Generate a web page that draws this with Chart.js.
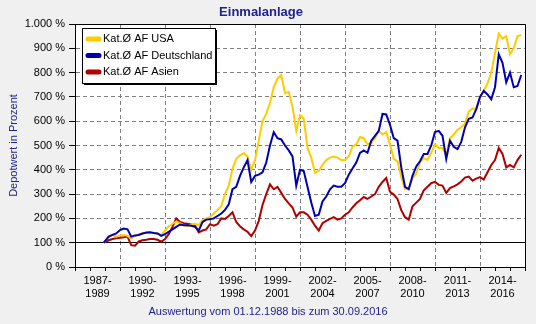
<!DOCTYPE html>
<html>
<head>
<meta charset="utf-8">
<script src="https://cdn.jsdelivr.net/npm/chart.js@4.4.1/dist/chart.umd.min.js"></script>
<style>
  html, body { margin: 0; padding: 0; background: #f0f0f0; }
  #chart { display: block; }
</style>
</head>
<body>
<canvas id="chart" width="536" height="324"></canvas>
<script>
// Quarterly points, first one is the start date 01.12.1988
const years = [
  1988.92,
  1989.25, 1989.5, 1989.75,
  1990, 1990.25, 1990.5, 1990.75,
  1991, 1991.25, 1991.5, 1991.75,
  1992, 1992.25, 1992.5, 1992.75,
  1993, 1993.25, 1993.5, 1993.75,
  1994, 1994.25, 1994.5, 1994.75,
  1995, 1995.25, 1995.5, 1995.75,
  1996, 1996.25, 1996.5, 1996.75,
  1997, 1997.25, 1997.5, 1997.75,
  1998, 1998.25, 1998.5, 1998.75,
  1999, 1999.25, 1999.5, 1999.75,
  2000, 2000.25, 2000.5, 2000.75,
  2001, 2001.25, 2001.5, 2001.75,
  2002, 2002.25, 2002.5, 2002.75,
  2003, 2003.25, 2003.5, 2003.75,
  2004, 2004.25, 2004.5, 2004.75,
  2005, 2005.25, 2005.5, 2005.75,
  2006, 2006.25, 2006.5, 2006.75,
  2007, 2007.25, 2007.5, 2007.75,
  2008, 2008.25, 2008.5, 2008.75,
  2009, 2009.25, 2009.5, 2009.75,
  2010, 2010.25, 2010.5, 2010.75,
  2011, 2011.25, 2011.5, 2011.75,
  2012, 2012.25, 2012.5, 2012.75,
  2013, 2013.25, 2013.5, 2013.75,
  2014, 2014.25, 2014.5, 2014.75,
  2015, 2015.25, 2015.5, 2015.75,
  2016, 2016.25, 2016.5, 2016.75
];

const usaValues = [
  100,
  125, 132, 125,
  130, 132, 128, 118,
  128, 135, 138, 140,
  142, 140, 138, 132,
  150, 168, 178, 187,
  180, 172, 168, 175,
  178, 172, 192, 200,
  205, 220, 235, 250,
  300, 335, 405, 445,
  460, 468, 455, 400,
  440, 520, 600, 630,
  676, 740, 775, 790,
  715, 720, 660, 560,
  625, 610, 490, 450,
  388, 395, 420, 440,
  450, 455, 450, 440,
  440, 455, 495, 505,
  535, 530, 505, 510,
  530, 560, 545, 555,
  505, 445, 435, 370,
  320, 325, 365, 385,
  430, 448, 441, 470,
  505, 490, 490, 460,
  530, 545, 565, 575,
  590, 640, 652, 650,
  695, 725, 755, 800,
  880, 960, 940, 950,
  875, 900, 950, 955
];

const germanyValues = [
  100,
  125, 132, 138,
  152, 158, 155, 125,
  130, 132, 138, 142,
  143, 140, 138, 128,
  135, 145, 155, 165,
  175, 172, 172, 170,
  165, 150, 185, 195,
  196, 200, 210, 220,
  235, 258, 320, 330,
  375, 410, 440, 350,
  375, 380, 390, 430,
  500, 555, 530, 525,
  500, 480, 455, 335,
  400, 395, 330, 265,
  210, 215, 270, 290,
  320, 335, 330, 330,
  345, 380, 405, 430,
  470, 480, 470, 520,
  540, 560, 630, 628,
  585, 530, 520, 410,
  330, 320, 375, 414,
  435, 465, 465, 500,
  555, 560, 540, 445,
  520, 495, 485, 515,
  575, 610, 615, 650,
  700, 725, 710, 690,
  740, 875, 840, 760,
  800, 740, 745, 790
];

const asiaValues = [
  100,
  110, 115, 118,
  120, 122, 125, 90,
  88, 105, 110, 112,
  115, 115, 112, 104,
  115, 135, 165, 200,
  185, 180, 178, 175,
  170, 142, 150, 155,
  176, 170, 176, 200,
  198, 210, 225, 185,
  168, 155, 145, 127,
  150, 190, 255, 300,
  340, 320, 330, 305,
  280, 262, 245, 207,
  225, 225, 215, 195,
  170, 150, 180, 190,
  198, 205, 195, 200,
  215, 225, 245, 262,
  275, 288, 280, 290,
  300, 330, 350, 366,
  310, 298, 280, 234,
  205, 195, 250, 265,
  280, 315, 330, 345,
  350, 338, 335, 305,
  325, 332, 340, 352,
  368, 372, 355, 364,
  370, 360, 390, 420,
  440, 490, 465, 410,
  420, 410, 440, 462
];

const seriesLabels = ["Kat.Ø AF USA", "Kat.Ø AF Deutschland", "Kat.Ø AF Asien"];
const seriesColors = ["#ffcc00", "#0000b0", "#b00000"];

const yTickLabels = ["0 %", "100 %", "200 %", "300 %", "400 %", "500 %", "600 %", "700 %", "800 %", "900 %", "1.000 %"];
const xTickLabels = ["1987-1989", "1990-1992", "1993-1995", "1996-1998", "1999-2001",
                     "2002-2004", "2005-2007", "2008-2010", "2011-2013", "2014-2016"];

const titleText = "Einmalanlage";
const yTitleText = "Depotwert in Prozent";
const footText = "Auswertung vom 01.12.1988 bis zum 30.09.2016";

const FONT = "'Liberation Sans', Arial, sans-serif";
const NAVY = "#22228c";

// label sits in the middle of each 3-year block
const labelPos = l => +l.slice(0, 4) + 1.5;

const decor = {
  id: "decor",
  beforeDraw(chart) {
    const { ctx, chartArea: a } = chart;
    ctx.save();
    ctx.fillStyle = "#ffffff";
    ctx.fillRect(a.left, a.top, a.right - a.left, a.bottom - a.top);
    ctx.restore();
  },
  afterDraw(chart) {
    const { ctx, chartArea: a } = chart;
    ctx.save();

    // frame top / right
    ctx.strokeStyle = "#000";
    ctx.lineWidth = 1;
    ctx.beginPath();
    ctx.moveTo(Math.round(a.left) + 0.5, Math.round(a.top) + 0.5);
    ctx.lineTo(Math.round(a.right) + 0.5, Math.round(a.top) + 0.5);
    ctx.lineTo(Math.round(a.right) + 0.5, Math.round(a.bottom) + 0.5);
    ctx.stroke();

    // legend box with shadow
    ctx.fillStyle = "#fff";
    ctx.fillRect(82, 28, 134, 56);
    ctx.strokeRect(82.5, 28.5, 133, 55);
    ctx.beginPath();
    ctx.moveTo(216.5, 30);
    ctx.lineTo(216.5, 85);
    ctx.moveTo(84, 84.5);
    ctx.lineTo(217, 84.5);
    ctx.stroke();

    ctx.font = "11px " + FONT;
    ctx.textBaseline = "middle";
    ctx.textAlign = "left";
    seriesLabels.forEach((label, i) => {
      const y = 39 + i * 16.5;
      ctx.strokeStyle = seriesColors[i];
      ctx.lineWidth = 5;
      ctx.lineCap = "round";
      ctx.beginPath();
      ctx.moveTo(88, y);
      ctx.lineTo(99, y);
      ctx.stroke();
      ctx.fillStyle = "#000";
      ctx.fillText(label, 103, y);
    });

    // title and footnote
    ctx.fillStyle = NAVY;
    ctx.textAlign = "center";
    ctx.font = "bold 13px " + FONT;
    ctx.fillText(titleText, 261, 12);
    ctx.font = "11px " + FONT;
    ctx.fillText(footText, 268, 312);
    ctx.restore();
  }
};

const isMajor = v => Number.isInteger(v) && (v - 1987) % 3 === 0;

new Chart(document.getElementById("chart"), {
  type: "line",
  data: {
    datasets: [
      { label: seriesLabels[0], data: years.map((x, i) => ({ x, y: usaValues[i] })), borderColor: seriesColors[0], order: 1 },
      { label: seriesLabels[1], data: years.map((x, i) => ({ x, y: germanyValues[i] })), borderColor: seriesColors[1], order: 0 },
      { label: seriesLabels[2], data: years.map((x, i) => ({ x, y: asiaValues[i] })), borderColor: seriesColors[2], order: 2 }
    ]
  },
  options: {
    responsive: false,
    animation: false,
    events: [],
    devicePixelRatio: 1,
    layout: { padding: { top: 24, right: 11, left: 0, bottom: 0 } },
    elements: {
      line: { borderWidth: 2, tension: 0, fill: false },
      point: { radius: 0 }
    },
    plugins: {
      legend: { display: false },
      tooltip: { enabled: false }
    },
    scales: {
      x: {
        type: "linear",
        min: 1987,
        max: 2017,
        afterBuildTicks: scale => {
          const t = [];
          for (let y = 1987; y <= 2017; y++) t.push({ value: y });
          xTickLabels.forEach(l => t.push({ value: labelPos(l) }));
          t.sort((a, b) => a.value - b.value);
          scale.ticks = t;
        },
        afterFit: scale => { scale.height = 57; },
        ticks: {
          autoSkip: false,
          maxRotation: 0,
          padding: 3,
          color: "#000",
          font: { family: FONT, size: 11, lineHeight: 1.18 },
          callback: value => {
            const l = xTickLabels.find(s => labelPos(s) === value);
            return l ? [l.slice(0, 5), l.slice(5)] : "";
          }
        },
        grid: {
          color: ctx => (ctx.tick && isMajor(ctx.tick.value) ? "#808080" : "rgba(0,0,0,0)"),
          tickColor: ctx => (ctx.tick && Number.isInteger(ctx.tick.value) ? "#000" : "rgba(0,0,0,0)"),
          tickLength: 4,
          lineWidth: 1
        },
        border: {
          color: "#000",
          dash: ctx => (ctx.type === "tick" ? [4, 3] : [])
        }
      },
      y: {
        min: 0,
        max: 1000,
        afterFit: scale => { scale.width = 75; },
        ticks: {
          stepSize: 100,
          padding: 4,
          color: "#000",
          font: { family: FONT, size: 11 },
          callback: value => yTickLabels[Math.round(value / 100)]
        },
        grid: {
          color: ctx => (ctx.tick && ctx.tick.value === 100 ? "#000" : "#808080"),
          tickColor: "#000",
          tickLength: 6,
          lineWidth: 1
        },
        border: {
          color: "#000",
          dash: ctx => (ctx.type === "tick" && ctx.tick.value !== 100 ? [4, 3] : [])
        },
        title: {
          display: true,
          text: yTitleText,
          color: NAVY,
          font: { family: FONT, size: 11 },
          padding: { top: 7, bottom: 0 }
        }
      }
    }
  },
  plugins: [decor]
});
</script>
</body>
</html>
